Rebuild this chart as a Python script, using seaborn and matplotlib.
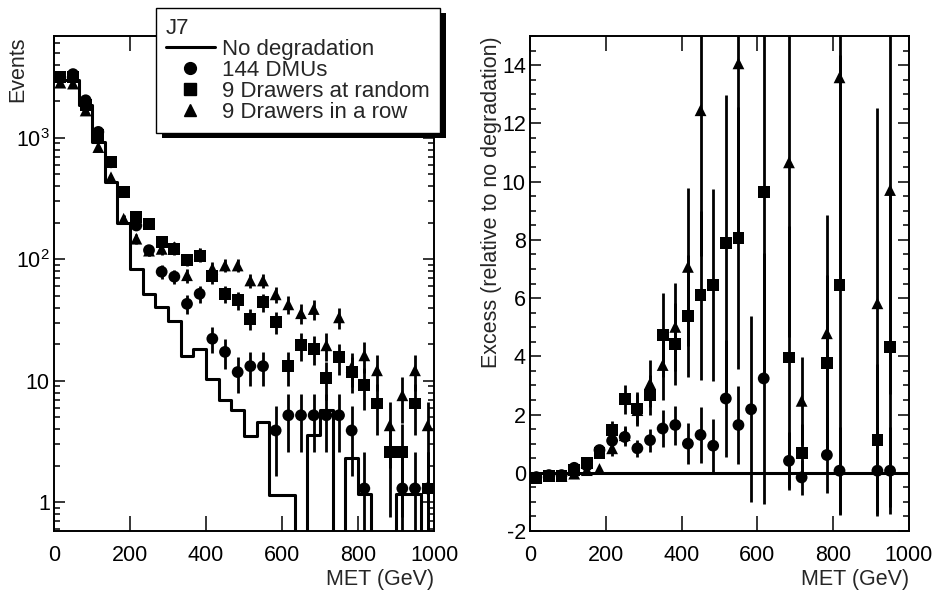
import numpy as np
import pandas as pd
import matplotlib
matplotlib.use("Agg")
import matplotlib.pyplot as plt
from matplotlib.lines import Line2D
from matplotlib.patches import Rectangle
from matplotlib.ticker import MultipleLocator, LogLocator, FuncFormatter, NullFormatter, NullLocator
import seaborn as sns

nan = np.nan

# MET binning: 30 bins from 0 to 1000 GeV
n_bins = 30
met_range = (0, 1000)

sample_names = ["144 DMUs", "9 Drawers at random", "9 Drawers in a row"]
marker_map = {"144 DMUs": "o", "9 Drawers at random": "s", "9 Drawers in a row": "^"}

# Left panel: events per bin
nodeg_events = [3000, 3000, 1850, 923, 433, 200, 84, 51.5, 40.6, 31, 16, 18.4, 10.4, 7.0, 5.7,
                3.5, 4.6, 1.14, 1.14, 0, 3.6, 5.7, 0, 2.3, 1.18, 0, 0, 1.18, 1.18, 0]
dmu_events = [3150, 3350, 2040, 1120, 630, 358, 190, 119, 79, 72, 43, 52, 22.2, 17.3, 11.8,
              13.2, 13.2, 3.9, 5.2, 5.2, 5.2, 5.2, 5.2, 3.9, 1.3, nan, nan, 1.3, 1.3, 1.3]
dmu_err = [64, 66, 51, 38, 29, 22, 16, 12.4, 10.1, 9.7, 7.5, 8.2, 5.4, 4.7, 3.9,
           4.1, 4.1, 2.25, 2.6, 2.6, 2.6, 2.6, 2.6, 2.25, 1.3, nan, nan, 1.3, 1.3, 1.3]
random_events = [3150, 3150, 1870, 1050, 632, 358, 223, 194, 139, 122, 99.5, 106, 72.5, 52, 46,
                 32.5, 44.5, 30.5, 13.2, 19.6, 18.4, 10.6, 15.7, 11.8, 9.2, 6.5, 2.6, 2.6, 6.5, 1.3]
random_err = [64, 64, 49, 37, 29, 22, 17, 16, 13.4, 12.6, 11.4, 11.7, 9.7, 8.2, 7.7,
              6.5, 7.6, 6.3, 4.1, 5.0, 4.9, 3.7, 4.5, 3.9, 3.5, 2.9, 1.84, 1.84, 2.9, 1.3]
row_events = [2850, 2800, 1680, 840, 474, 216, 148, 118, 122, 126, 74, 111, 84, 89, 89,
              67, 67, 51.5, 42.6, 36, 39, 19.6, 33.3, 13, 16.2, 12.2, 4.3, 7.6, 12.2, 4.3]
row_err = [61, 60, 47, 33, 25, 17, 14, 12.4, 12.6, 12.8, 9.8, 12, 10.4, 10.8, 10.8,
           9.3, 9.3, 8.2, 7.4, 6.8, 7.1, 5.0, 6.6, 4.1, 4.6, 4.0, 2.4, 3.1, 4.0, 2.4]

# Right panel: excess relative to no degradation
dmu_excess = [-0.15, -0.08, -0.08, 0.17, 0.25, 0.78, 1.10, 1.23, 0.84, 1.12, 1.52, 1.64, 1.00, 1.30, 0.93,
              2.55, 1.64, 2.18, 3.24, nan, 0.41, -0.16, nan, 0.61, 0.07, nan, nan, 0.07, 0.07, nan]
dmu_excess_err = [0.03, 0.03, 0.04, 0.05, 0.07, 0.12, 0.2, 0.3, 0.3, 0.4, 0.65, 0.67, 0.7, 0.95, 0.9,
                  2.0, 1.33, 3.2, 4.3, nan, 1.0, 0.6, nan, 1.3, 1.5, nan, nan, 1.5, 1.5, nan]
random_excess = [-0.17, -0.1, -0.1, 0.1, 0.34, 0.69, 1.47, 2.52, 2.21, 2.67, 4.73, 4.42, 5.38, 6.10, 6.46,
                 7.88, 8.05, nan, 9.65, nan, 3.96, 0.69, nan, 3.78, 6.45, nan, nan, 1.12, 4.33, nan]
random_excess_err = [0.03, 0.03, 0.04, 0.06, 0.1, 0.15, 0.3, 0.5, 0.55, 0.7, 1.45, 1.4, 2.1, 2.9, 3.3,
                     5.1, 4.5, nan, 6.5, nan, 4.5, 1.0, nan, 3.0, 7.9, nan, nan, 2.6, 5.5, nan]
row_excess = [-0.15, -0.1, -0.1, -0.03, 0.09, 0.13, 0.84, 1.29, 2.15, 3.07, 3.70, 5.01, 7.07, 12.45, nan,
              nan, 14.06, nan, nan, nan, 10.66, 2.47, nan, 4.79, 13.58, nan, nan, 5.82, 9.71, nan]
row_excess_err = [0.03, 0.03, 0.04, 0.05, 0.08, 0.1, 0.25, 0.3, 0.55, 0.8, 1.2, 1.5, 2.7, 5.0, nan,
                  nan, 6.0, nan, nan, nan, 6.0, 1.5, nan, 4.06, 7.0, nan, nan, 6.7, 7.0, nan]

edges = np.linspace(met_range[0], met_range[1], n_bins + 1)
met = (edges[:-1] + edges[1:]) / 2

left = pd.DataFrame({
    "met": np.tile(met, 3),
    "value": np.concatenate([dmu_events, random_events, row_events]),
    "err": np.concatenate([dmu_err, random_err, row_err]),
    "sample": np.repeat(sample_names, n_bins),
})
right = pd.DataFrame({
    "met": np.tile(met, 3),
    "value": np.concatenate([dmu_excess, random_excess, row_excess]),
    "err": np.concatenate([dmu_excess_err, random_excess_err, row_excess_err]),
    "sample": np.repeat(sample_names, n_bins),
})

sns.set_style("ticks")
plt.rcParams.update({
    "font.family": ["Liberation Sans", "DejaVu Sans"],
    "mathtext.fontset": "custom",
    "mathtext.rm": "Liberation Sans",
    "mathtext.it": "Liberation Sans:italic",
    "axes.unicode_minus": False,
    "axes.linewidth": 1.4,
    "axes.edgecolor": "black",
})

FS = 15.5
W, H = 932, 591
fig = plt.figure(figsize=(W / 100, H / 100), dpi=100)
ax1 = fig.add_axes([54 / W, 60 / H, 380 / W, 495 / H])
ax2 = fig.add_axes([530 / W, 60 / H, 379 / W, 495 / H])


def draw_points(ax, df):
    for name in sample_names:
        sub = df[df["sample"] == name]
        ax.errorbar(sub["met"], sub["value"], yerr=sub["err"], fmt="none",
                    ecolor="black", elinewidth=2.0, capsize=0, zorder=2)
    sns.scatterplot(data=df, x="met", y="value", style="sample", markers=marker_map,
                    color="black", s=72, linewidth=0, legend=False, ax=ax, zorder=3)


def style_axes(ax):
    ax.set_xlim(*met_range)
    ax.xaxis.set_major_locator(MultipleLocator(200))
    ax.xaxis.set_minor_locator(NullLocator())
    ax.tick_params(axis="both", which="both", direction="in", top=True, right=True,
                   labelsize=FS, colors="black", width=1.1)
    ax.tick_params(axis="x", which="major", length=11, pad=10)
    ax.tick_params(axis="y", which="major", length=8, pad=3)
    ax.tick_params(axis="y", which="minor", length=4.5)
    ax.set_xlabel("MET (GeV)", loc="right", fontsize=FS, labelpad=2)


# ---- left: event counts ----
sns.histplot(x=met, weights=nodeg_events, bins=n_bins, binrange=met_range, element="step",
             fill=False, color="black", linewidth=2.2, ax=ax1, zorder=1)
draw_points(ax1, left)
ax1.set_yscale("log")
ax1.set_ylim(0.58, 6900)
ax1.yaxis.set_major_locator(LogLocator(base=10, numticks=10))
ax1.yaxis.set_minor_locator(LogLocator(base=10, subs=np.arange(2, 10), numticks=20))
log_labels = {1: "1", 10: "10", 100: "$\\mathregular{10^{2}}$", 1000: "$\\mathregular{10^{3}}$"}
ax1.yaxis.set_major_formatter(FuncFormatter(lambda v, pos: log_labels.get(int(round(v)), "")))
ax1.yaxis.set_minor_formatter(NullFormatter())
style_axes(ax1)
ax1.set_ylabel("Events", loc="top", fontsize=FS)
ax1.yaxis.set_label_coords(-0.068, 1.0)

# ---- right: excess ----
ax2.axhline(0, color="black", linewidth=2.2, zorder=1)
draw_points(ax2, right)
ax2.set_ylim(-2, 15)
ax2.yaxis.set_major_locator(MultipleLocator(2))
ax2.yaxis.set_minor_locator(MultipleLocator(0.5))
style_axes(ax2)
ax2.set_ylabel("Excess (relative to no degradation)", loc="top", fontsize=FS)
ax2.yaxis.set_label_coords(-0.075, 1.0)

# ---- legend ----
handles = [Line2D([], [], color="black", linewidth=2.2)] + [
    Line2D([], [], marker=marker_map[n], linestyle="none", color="black", markersize=8.5)
    for n in sample_names]
labels = ["No degradation"] + sample_names
leg = fig.legend(handles=handles, labels=labels, title="J7", loc="upper left",
                 bbox_to_anchor=(156 / W, 458 / H, 284 / W, 125 / H), mode="expand",
                 borderaxespad=0, fontsize=16, title_fontsize=16, alignment="left",
                 frameon=True, fancybox=False, framealpha=1, facecolor="white",
                 edgecolor="black", borderpad=0.45, labelspacing=0.0,
                 handlelength=2.2, handletextpad=0.3)
leg.get_frame().set_linewidth(1.0)
leg.set_zorder(10)

fig.canvas.draw()
bb = leg.get_window_extent()
shadow = Rectangle(((bb.x0 + 6) / W, (bb.y0 - 5) / H), bb.width / W, bb.height / H,
                   transform=fig.transFigure, facecolor="black", edgecolor="none", zorder=9)
fig.patches.append(shadow)

fig.savefig("out.png", dpi=100, facecolor="white")
